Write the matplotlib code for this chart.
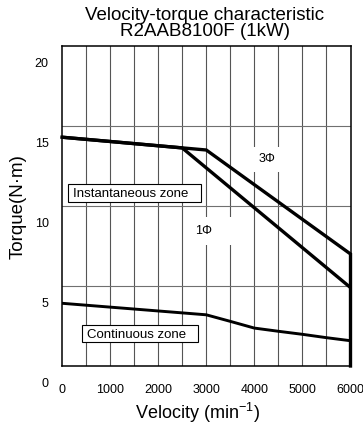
import matplotlib
matplotlib.use("Agg")
import matplotlib.pyplot as plt
from matplotlib.patches import Rectangle
from matplotlib.transforms import ScaledTranslation

plt.rcParams['font.family'] = ['Liberation Sans', 'DejaVu Sans']
plt.rcParams['mathtext.fontset'] = 'custom'
plt.rcParams['mathtext.rm'] = 'Liberation Sans'
plt.rcParams['mathtext.it'] = 'Liberation Sans:italic'

# Data (speed in min^-1, torque in N·m)
speed_3ph = [0, 3000, 6000, 6000]
torque_3ph = [14.3, 13.5, 7.0, 0.0]
speed_1ph = [0, 2500, 6000]
torque_1ph = [14.3, 13.63, 4.9]
speed_cont = [0, 3000, 3500, 4000, 4500, 5000, 5500, 6000]
torque_cont = [3.92, 3.2, 2.79, 2.37, 2.17, 1.98, 1.77, 1.58]
xticks = [0, 1000, 2000, 3000, 4000, 5000, 6000]
yticks = [0, 5, 10, 15, 20]

fig = plt.figure(figsize=(3.63, 4.27), dpi=100)
ax = fig.add_axes([62/363, 1-367/427, (350.5-62)/363, (367-47)/427])
ax.set_xlim(0, 6000)
ax.set_ylim(0, 20)

# grid
for x in range(500, 6000, 500):
    ax.axvline(x, color='#555555', lw=0.8, zorder=1)
for y in [5, 10, 15]:
    ax.axhline(y, color='#707070', lw=0.8, zorder=1)

# white backgrounds for phase labels
ax.add_patch(Rectangle((3960, 12.1), 600, 1.6, facecolor='white', edgecolor='none', zorder=2))
ax.add_patch(Rectangle((2665, 7.56), 875, 1.75, facecolor='white', edgecolor='none', zorder=2))
ax.text(4271, 13.0, '3Φ', ha='center', va='center', fontsize=9, zorder=3)
ax.text(2948, 8.5, '1Φ', ha='center', va='center', fontsize=9, zorder=3)

# curves
ax.plot(speed_3ph, torque_3ph, color='black', lw=2.4, zorder=4, solid_joinstyle='miter', clip_on=False)
ax.plot(speed_1ph, torque_1ph, color='black', lw=2.4, zorder=4, solid_joinstyle='miter')
ax.plot(speed_cont, torque_cont, color='black', lw=2.1, zorder=4)

# zone labels
ax.add_patch(Rectangle((125, 10.25), 2771, 1.125, facecolor='white', edgecolor='black', lw=0.8, zorder=5))
ax.text(223, 10.81, 'Instantaneous zone', ha='left', va='center', fontsize=9.5, zorder=6)
ax.add_patch(Rectangle((410, 1.48), 2417, 1.08, facecolor='white', edgecolor='black', lw=0.8, zorder=5))
ax.text(515, 2.02, 'Continuous zone', ha='left', va='center', fontsize=9.5, zorder=6)

for s in ax.spines.values():
    s.set_color('black')
    s.set_linewidth(1.1)
    s.set_zorder(5)

ax.set_xticks(xticks)
ax.set_yticks(yticks)
ax.set_xticklabels([str(v) for v in xticks])
ax.set_yticklabels([str(v) for v in yticks])
ax.tick_params(axis='both', length=0, labelsize=9)
ax.tick_params(axis='x', pad=12)
ax.tick_params(axis='y', pad=9.5)
off = ScaledTranslation(0, -16/100, fig.dpi_scale_trans)
for lab in ax.get_yticklabels():
    lab.set_transform(lab.get_transform() + off)

ax.set_xlabel(r'Velocity (min$^{\mathregular{-1}}$)', fontsize=13)
ax.xaxis.set_label_coords(0.47, -46/320, transform=ax.transAxes)
ax.xaxis.label.set_va('center')
ax.set_ylabel('Torque(N·m)', fontsize=13.5)
ax.yaxis.set_label_coords(-44/288.5, 0.5, transform=ax.transAxes)
ax.yaxis.label.set_va('center')

fig.text(205/363, 1-15/427, 'Velocity-torque characteristic', ha='center', va='center', fontsize=13.5)
fig.text(205/363, 1-32/427, 'R2AAB8100F (1kW)', ha='center', va='center', fontsize=13.5)

fig.savefig('out.png', dpi=100)
